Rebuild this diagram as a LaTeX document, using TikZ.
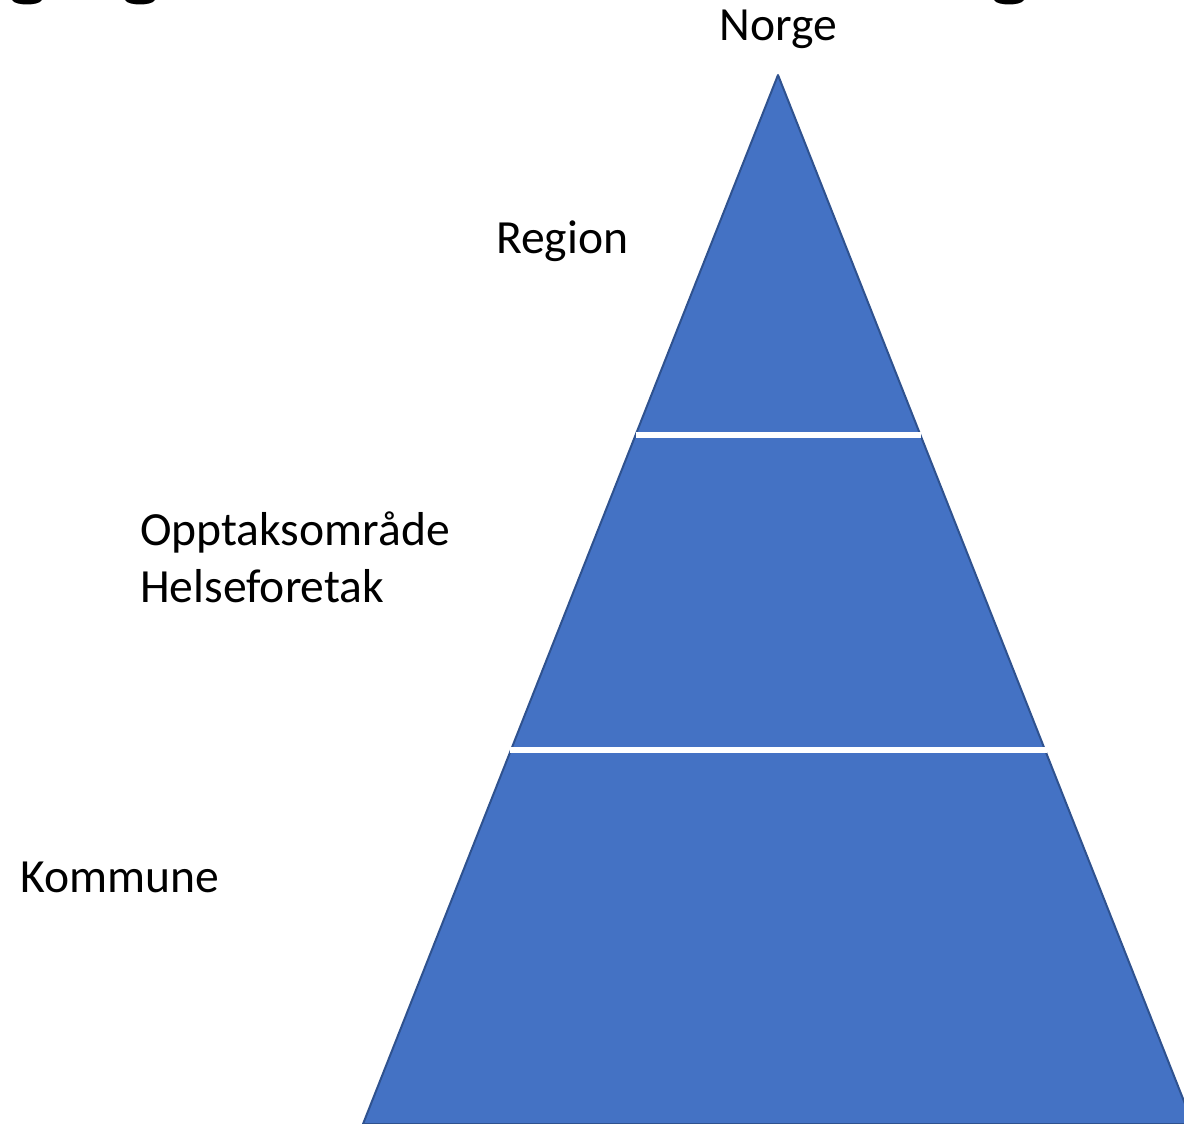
\documentclass[tikz,border=0pt]{standalone}
\usepackage{fontspec}
\setmainfont{Carlito}
\definecolor{pyrfill}{HTML}{4472C4}
\definecolor{pyredge}{HTML}{2F528F}
\begin{document}
\begin{tikzpicture}[x=1pt,y=-1pt,
  label/.style={inner sep=0pt, font=\fontsize{47.6}{57}\selectfont, text=black},
  divider/.style={draw=white, line width=6pt}]
\useasboundingbox (0,0) rectangle (1184,1124);
\clip (0,0) rectangle (1184,1124);

% descenders of the heading line running above the frame
\fill (12,0) .. controls (15,6) and (39,6) .. (42,0) -- cycle;
\fill (125,0) .. controls (128,6) and (152,6) .. (155,0) -- cycle;
\fill (994,0) .. controls (997,6) and (1021,6) .. (1024,0) -- cycle;

% pyramid outline
\coordinate (apex) at (778,75);
\coordinate (bl) at (363,1124);
\coordinate (br) at (1193,1124);
\filldraw[fill=pyrfill, draw=pyredge, line width=2pt, line join=round]
  (apex) -- (br) -- (bl) -- cycle;

% level dividers
\coordinate (d1l) at (636,435);
\coordinate (d1r) at (921,435);
\coordinate (d2l) at (510,750);
\coordinate (d2r) at (1047,750);
\draw[divider] (d1l) -- (d1r);
\draw[divider] (d2l) -- (d2r);

% level names
\node[label, anchor=base] (norge) at (778,41) {Norge};
\node[label, anchor=base west] (region) at (496,253) {Region};
\node[label, anchor=base west] (opptak) at (140,545) {Opptaksområde};
\node[label, anchor=base west] (helse) at (140,602) {Helseforetak};
\node[label, anchor=base west] (kommune) at (20,892) {Kommune};
\end{tikzpicture}
\end{document}
